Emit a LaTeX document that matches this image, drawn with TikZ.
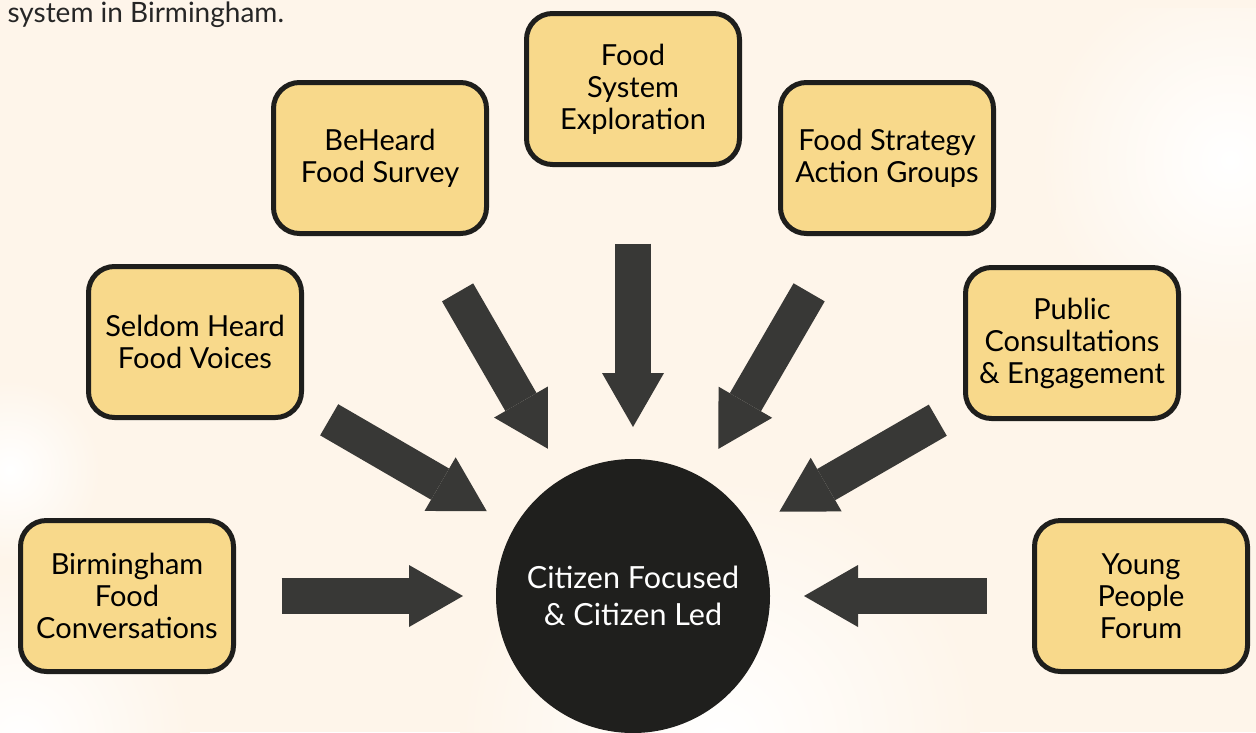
\documentclass[tikz,border=0pt]{standalone}
\usepackage{fontspec}
\setmainfont{Lato}
\usetikzlibrary{arrows.meta}
\definecolor{boxfill}{HTML}{F8D98B}
\definecolor{boxline}{HTML}{1E1E1C}
\definecolor{hubfill}{HTML}{1F1F1D}
\definecolor{arrowgrey}{HTML}{383836}
\definecolor{peach}{HTML}{FEF5EA}
\tikzstyle{source}=[draw=boxline, fill=boxfill, line width=5pt, rounded corners=26pt,
    minimum width=213pt, minimum height=151pt, inner sep=0pt, outer sep=0pt,
    align=center, font=\fontsize{29}{32}\selectfont]
\tikzstyle{hub}=[circle, fill=hubfill, text=white, minimum size=274pt, inner sep=0pt,
    outer sep=0pt, align=center, font=\fontsize{30.5}{37}\selectfont]
\tikzstyle{feed}=[draw=arrowgrey, line width=36pt,
    -{Triangle[length=54pt, width=62pt, line width=0pt, fill=arrowgrey]}]
\tikzstyle{glow}=[inner color=white, outer color=peach]

\begin{document}
\begin{tikzpicture}[x=1pt, y=-1pt]
% Background
    \useasboundingbox (0,0) rectangle (1256,732);
    \fill[peach] (0,0) rectangle (1256,732);
    \shade[glow] (1230,160) circle (190);
    \shade[glow] (720,740) circle (260);
    \shade[glow] (20,740) circle (170);
    \shade[glow] (10,470) circle (90);
    \fill[peach] (0,0) rectangle (1256,8);
% Caption
    \node[anchor=base west, font=\fontsize{28}{32}\selectfont, text=black!85] (caption)
        at (4,22) {system in Birmingham.};
% Hub
    \node[hub] (hub) at (633,596) {Citizen Focused\\\& Citizen Led};
% Sources
    \node[source] (conv) at (127,596) {Birmingham\\Food\\Conversations};
    \node[source] (seldom) at (195,342) {Seldom Heard\\Food Voices};
    \node[source] (beheard) at (380,158) {BeHeard\\Food Survey};
    \node[source] (explore) at (633,89) {Food\\System\\Exploration};
    \node[source] (strategy) at (887,158) {Food Strategy\\Action Groups};
    \node[source] (public) at (1072,343) {Public\\Consultations\\\& Engagement};
    \node[source] (young) at (1141,596) {Young\\People\\Forum};
% Arrows into the hub
    \draw[feed, shorten <=48pt, shorten >=33pt] (conv) -- (hub);
    \draw[feed, shorten <=32pt, shorten >=32pt] (seldom) -- (hub);
    \draw[feed, shorten <=68pt, shorten >=33pt] (beheard) -- (hub);
    \draw[feed, shorten <=79pt, shorten >=32pt] (explore) -- (hub);
    \draw[feed, shorten <=68pt, shorten >=33pt] (strategy) -- (hub);
    \draw[feed, shorten <=32pt, shorten >=32pt] (public) -- (hub);
    \draw[feed, shorten <=48pt, shorten >=34pt] (young) -- (hub);
\end{tikzpicture}
\end{document}
